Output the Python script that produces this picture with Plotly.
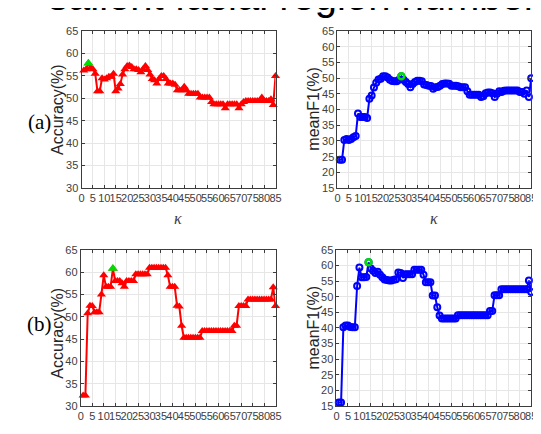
import plotly.graph_objects as go

k = list(range(1, 86))

acc_a = [56.2, 56.5, 57.8, 56.8, 56.5, 55.5, 51.6, 51.6, 54.5, 54.2,
         54.5, 54.8, 54.8, 55.5, 51.6, 52.2, 53.2, 55.3, 56.5, 57.2,
         57.3, 57.0, 56.5, 56.5, 56.3, 55.8, 56.5, 57.2, 56.3, 55.3,
         54.3, 54.0, 53.3, 54.3, 55.0, 55.0, 54.3, 53.3, 53.3, 53.3,
         53.0, 51.8, 51.8, 51.8, 52.6, 51.8, 51.0, 51.0, 51.0, 51.0,
         51.0, 50.2, 50.2, 50.2, 50.2, 50.2, 49.2, 48.7, 48.7, 48.7,
         48.7, 48.7, 47.8, 48.7, 48.7, 48.7, 48.7, 48.7, 47.8, 48.7,
         49.2, 49.4, 49.4, 49.4, 49.4, 49.4, 49.4, 49.4, 50.2, 49.4,
         49.4, 49.4, 49.8, 48.5, 55.0]

f1_a = [24.0, 24.0, 30.3, 30.6, 30.3, 30.6, 31.2, 31.6, 38.7, 37.6,
        37.6, 37.6, 37.3, 43.4, 44.5, 47.0, 48.5, 49.6, 49.8, 50.6,
        50.6, 50.2, 49.5, 49.1, 49.0, 49.0, 49.5, 50.6, 49.5, 48.8,
        48.1, 47.1, 48.1, 48.8, 49.2, 49.2, 49.0, 48.0, 47.8, 47.6,
        47.5, 46.6, 47.1, 47.2, 47.6, 48.1, 48.3, 48.3, 48.2, 47.6,
        47.6, 47.6, 47.4, 47.1, 47.1, 47.1, 45.8, 44.7, 44.7, 44.7,
        44.7, 44.7, 44.0, 44.2, 45.2, 45.4, 45.4, 45.2, 44.0, 45.0,
        45.8, 45.6, 46.0, 46.1, 46.1, 46.1, 46.1, 46.1, 46.1, 45.6,
        45.6, 45.0, 46.1, 44.0, 50.0]

acc_b = [32.4, 32.4, 50.8, 52.5, 52.4, 51.0, 51.0, 51.0, 55.0, 59.3,
         56.7, 56.7, 56.7, 60.8, 58.0, 58.0, 58.0, 57.5, 56.7, 58.0,
         58.0, 58.0, 58.0, 59.5, 59.5, 59.5, 59.5, 59.5, 59.5, 61.0,
         61.0, 61.0, 61.0, 61.0, 61.0, 61.0, 61.0, 59.3, 56.7, 56.7,
         56.7, 52.5, 52.3, 48.0, 45.3, 45.3, 45.3, 45.3, 45.3, 45.3,
         45.3, 45.3, 46.8, 46.8, 46.8, 46.8, 46.8, 46.8, 46.8, 46.8,
         46.8, 46.8, 46.8, 46.8, 46.8, 46.8, 48.0, 48.0, 52.4, 52.4,
         52.4, 52.4, 53.9, 53.9, 53.9, 53.9, 53.9, 53.9, 53.9, 53.9,
         53.9, 53.9, 53.9, 56.6, 52.4]

f1_b = [16.2, 16.2, 40.2, 40.8, 40.8, 40.3, 40.2, 40.2, 53.4, 59.3,
        56.2, 56.2, 56.3, 61.0, 59.0, 58.3, 57.6, 58.0, 57.0, 56.2,
        55.5, 55.3, 55.2, 55.2, 55.4, 55.6, 57.7, 57.6, 56.0, 57.2,
        57.2, 57.2, 57.2, 58.6, 58.6, 58.6, 58.6, 57.0, 54.6, 54.6,
        54.6, 50.4, 50.4, 46.6, 44.0, 43.0, 43.0, 43.0, 43.0, 43.0,
        43.0, 43.0, 44.1, 44.1, 44.1, 44.1, 44.1, 44.1, 44.1, 44.1,
        44.1, 44.1, 44.1, 44.1, 44.1, 44.1, 45.4, 45.4, 50.5, 50.5,
        50.5, 52.4, 52.4, 52.4, 52.4, 52.4, 52.4, 52.4, 52.4, 52.4,
        52.4, 52.4, 52.4, 55.2, 51.5]

best_a_acc_k = 3
best_a_f1_k = 28
best_b_acc_k = 14
best_b_f1_k = 14

x_ticks = list(range(0, 90, 5))
acc_ticks = list(range(30, 70, 5))
f1_ticks = list(range(15, 70, 5))

title_text = "salient facial region number"
panel_labels = ["(a)", "(b)"]
ytitle_acc = "Accuracy(%)"
ytitle_f1 = "meanF1(%)"
xtitle = "<i>κ</i>"

W, H = 541, 434
RED = "#ff0000"
BLUE = "#0000ff"
GREEN = "#00dd00"


def px(x):
    return x / W


def py(y):
    return 1 - y / H


fig = go.Figure()

panels = [
    ("x", "y", acc_a, RED, "triangle-up", best_a_acc_k),
    ("x2", "y2", f1_a, BLUE, "circle-open", best_a_f1_k),
    ("x3", "y3", acc_b, RED, "triangle-up", best_b_acc_k),
    ("x4", "y4", f1_b, BLUE, "circle-open", best_b_f1_k),
]

for xa, ya, vals, col, sym, bk in panels:
    if sym == "triangle-up":
        mk = dict(symbol=sym, size=8, color=col, line=dict(width=0))
        gmk = dict(symbol="triangle-up", size=9, color=GREEN, line=dict(width=0))
    else:
        mk = dict(symbol=sym, size=6, color=col, line=dict(width=2, color=col))
        gmk = dict(symbol="circle-open", size=6, color=GREEN, line=dict(width=2.5, color=GREEN))
    fig.add_trace(go.Scatter(x=k, y=vals, mode="lines+markers", xaxis=xa, yaxis=ya,
                             line=dict(color=col, width=2), marker=mk,
                             cliponaxis=False, showlegend=False))
    fig.add_trace(go.Scatter(x=[bk], y=[vals[bk - 1]], mode="markers", xaxis=xa, yaxis=ya,
                             marker=gmk, cliponaxis=False, showlegend=False))

axis_common = dict(showgrid=True, gridcolor="#e6e6e6", gridwidth=1,
                   showline=True, linecolor="#3c3c3c", linewidth=1, mirror="ticks",
                   ticks="inside", ticklen=3, tickcolor="#3c3c3c", zeroline=False,
                   tickfont=dict(family="Liberation Sans, Arial", size=11, color="#404040"))

xdoms = [[px(71.7), px(269)], [px(332), px(529)], [px(71), px(269)], [px(331), px(529)]]
ydoms = [[py(179), py(17.5)], [py(179), py(17.5)], [py(403.3), py(242.5)], [py(403.3), py(242.5)]]
yr = [[30, 65], [15, 65], [30, 65], [15, 65]]
yt = [acc_ticks, f1_ticks, acc_ticks, f1_ticks]

layout = dict(width=W, height=H, margin=dict(l=0, r=0, t=0, b=0),
              paper_bgcolor="white", plot_bgcolor="white", showlegend=False)
for i in range(4):
    sx = "" if i == 0 else str(i + 1)
    layout["xaxis" + sx] = dict(domain=xdoms[i], range=[0, 85], tickvals=x_ticks,
                                tickangle=0, anchor="y" + sx, **axis_common)
    layout["yaxis" + sx] = dict(domain=ydoms[i], range=yr[i], tickvals=yt[i],
                                anchor="x" + sx, **axis_common)
fig.update_layout(**layout)

ann = []
ann.append(dict(text=title_text, x=px(36), y=py(-18), xref="paper", yref="paper",
                xanchor="left", yanchor="middle", showarrow=False,
                font=dict(family="Liberation Sans, Arial", size=40, color="#000000")))
for lab, yy in zip(panel_labels, [111, 319]):
    ann.append(dict(text=lab, x=px(29), y=py(yy), xref="paper", yref="paper",
                    xanchor="center", yanchor="middle", showarrow=False,
                    font=dict(family="Liberation Serif, Times New Roman", size=21, color="#000000")))
for txt, xx, yy in [(ytitle_acc, 47.5, 98), (ytitle_f1, 307.5, 97),
                    (ytitle_acc, 47.5, 328), (ytitle_f1, 307.5, 322)]:
    ann.append(dict(text=txt, x=px(xx), y=py(yy), xref="paper", yref="paper",
                    xanchor="center", yanchor="middle", textangle=-90, showarrow=False,
                    font=dict(family="Liberation Sans, Arial", size=16, color="#262626")))
for xx, yy in [(170, 210), (430, 210), (170, 436), (430, 436)]:
    ann.append(dict(text=xtitle, x=px(xx), y=py(yy), xref="paper", yref="paper",
                    xanchor="center", yanchor="middle", showarrow=False,
                    font=dict(family="Liberation Serif, Times New Roman", size=16, color="#404040")))
fig.update_layout(annotations=ann)

fig.write_html("out.html")
